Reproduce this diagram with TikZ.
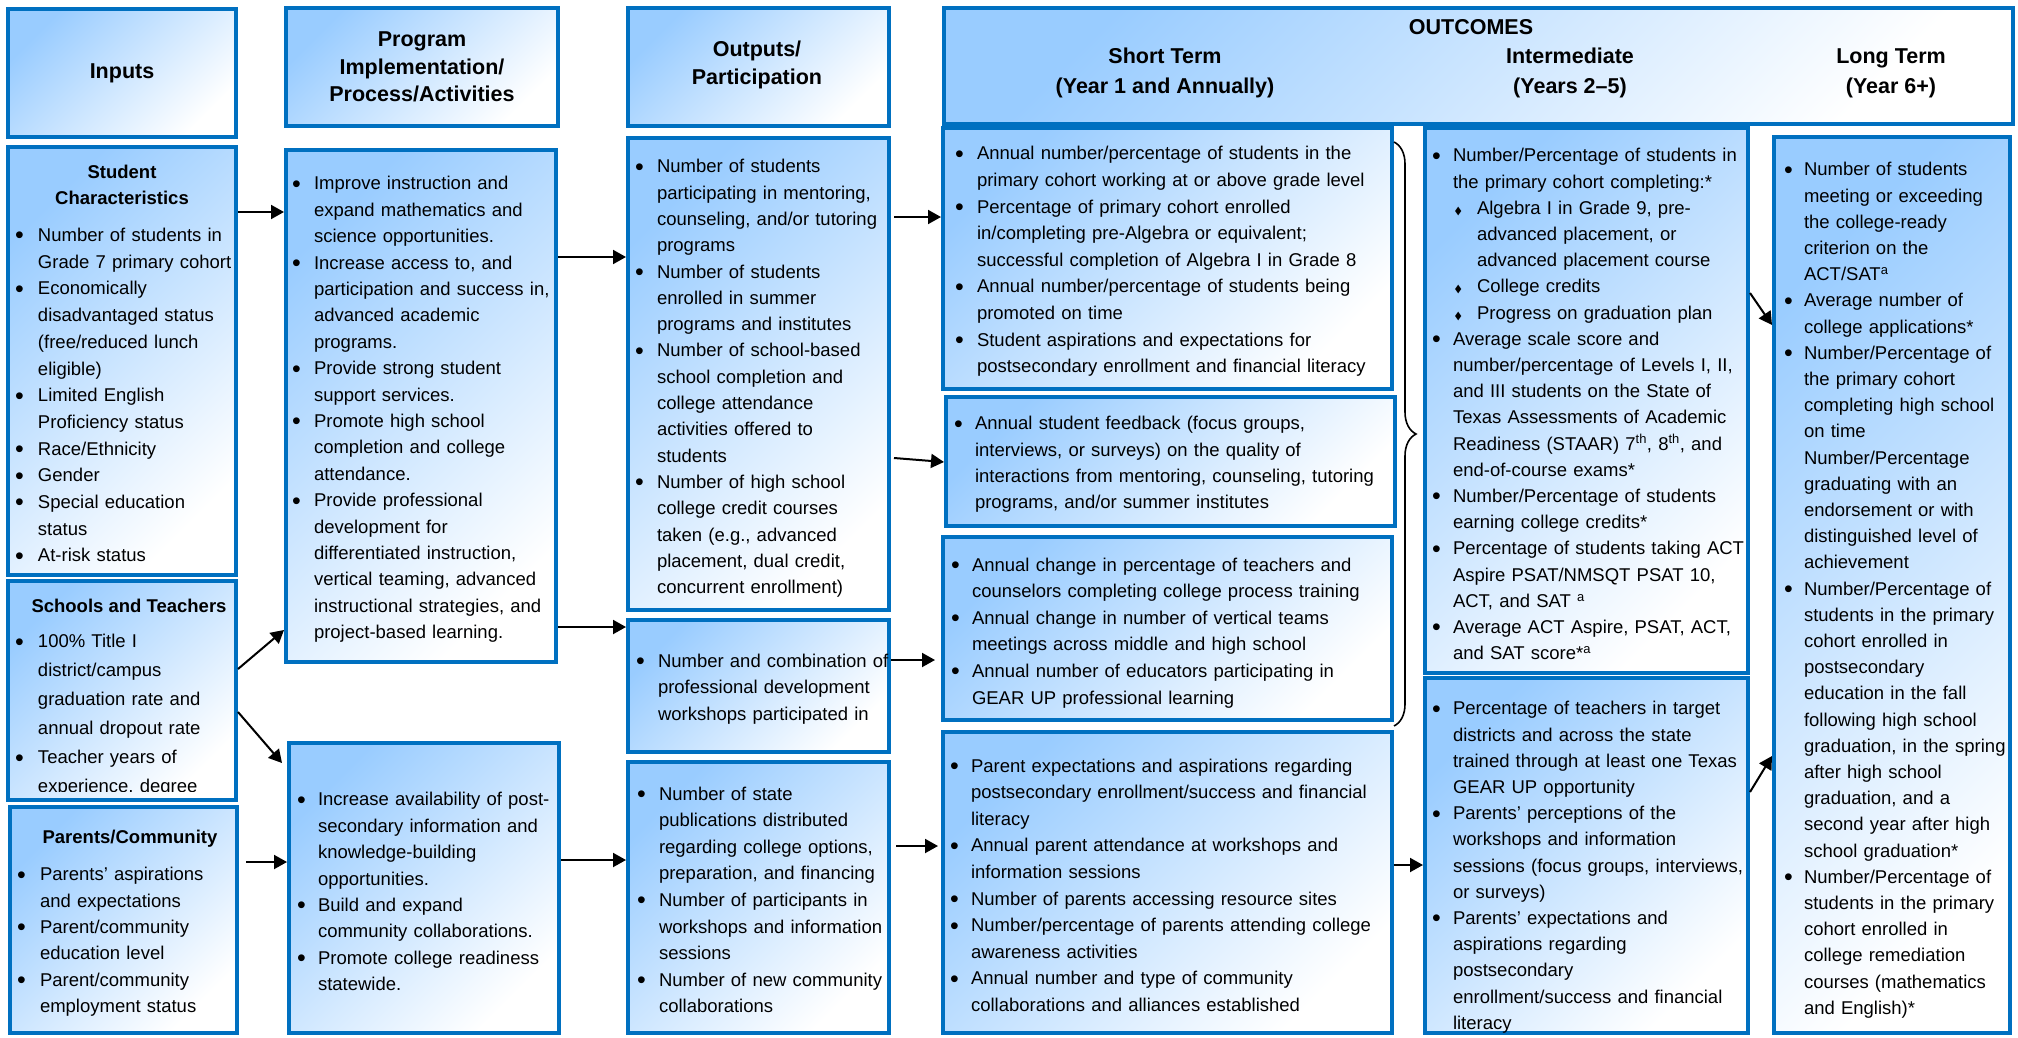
\documentclass[tikz,border=0pt]{standalone}
\usepackage{fontspec}
\setmainfont{Liberation Sans}
\newfontfamily\djv{DejaVu Sans}
\usepackage{graphicx}
\usetikzlibrary{arrows.meta,decorations.pathreplacing,calc}
\definecolor{bblue}{RGB}{0,112,192}
\definecolor{lblue}{RGB}{153,204,255}
\newlength{\hin}\newlength{\shin}\newlength{\sof}\newlength{\sw}
\newcommand{\bul}{\raisebox{-2.4pt}{\scalebox{1.35}{•}}}
\newcommand{\itm}{\par\hangindent=\hin\hangafter=1\noindent\strut\makebox[\hin][l]{\bul}}
\newcommand{\sitm}{\par\hangindent=\shin\hangafter=1\noindent\strut\hspace*{\sof}\makebox[\sw][l]{\scalebox{0.75}[1.05]{\djv\fontsize{11}{11}\selectfont ◆}}}
\newcommand{\bsz}[1]{\fontsize{18.5}{#1}\selectfont}
\newcommand{\bx}[5]{\node[box, minimum width={#4-#2}, minimum height={#5-#3}] (#1) at ({(#2+#4)/2},{(#3+#5)/2}) {};}
\tikzset{
  box/.style={draw=bblue, line width=4pt, top color=lblue, bottom color=white, shading angle=45, inner sep=0pt},
  txt/.style={anchor=north west, inner sep=0pt, outer sep=0pt, text width=#1,
    execute at begin node={\setlength{\parskip}{0pt}\setlength{\parindent}{0pt}\rightskip=0pt plus 1fil\relax\hbadness=10000\hfuzz=100pt\relax}},
  hdr/.style={font=\fontsize{21.5}{27.5}\selectfont\bfseries, align=center, inner sep=0pt},
  subh/.style={font=\fontsize{18.5}{26}\selectfont\bfseries, align=center, inner sep=0pt},
  arr/.style={line width=2pt, -{Triangle[length=13pt,width=14pt]}},
  brc/.style={line width=1.6pt, decorate, decoration={brace, amplitude=22pt}}
}
\begin{document}
\begin{tikzpicture}[x=1pt,y=-1pt]
\useasboundingbox (0,0) rectangle (2018,1038);
\fill[white] (0,0) rectangle (2018,1038);
% header boxes
\bx{hinp}{8}{9}{236}{137}
\bx{hprog}{286}{8}{558}{126}
\bx{hout}{628}{8}{889}{126}
\bx{hoc}{944}{8}{2013}{124}
% column 1
\bx{sc}{8}{147}{236}{575}
\bx{sch}{8}{581}{236}{800}
\bx{pa}{10}{807}{237}{1033}
% column 2
\bx{p1}{286}{150}{556}{662}
\bx{p2}{289}{743}{559}{1033}
% column 3
\bx{o1}{628}{138}{889}{610}
\bx{o2}{628}{620}{889}{752}
\bx{o3}{628}{762}{889}{1033}
% column 4
\bx{s1}{943}{128}{1392}{389}
\bx{s2}{946}{397}{1395}{526}
\bx{s3}{943}{537}{1392}{720}
\bx{s4}{943}{732}{1392}{1033}
% column 5
\bx{i1}{1425}{128}{1748}{673}
\bx{i2}{1425}{678}{1748}{1033}
% column 6
\bx{lt}{1774}{137}{2010}{1033}

% headers
\node[hdr] (t-in) at (122,73) {Inputs};
\node[hdr] (t-pr) at (422,67) {Program\\Implementation/\\Process/Activities};
\node[hdr] (t-ou) at (757,65) {Outputs/\\Participation};
\node[hdr] (t-oc) at (1471,27) {OUTCOMES};
\node[hdr, font=\fontsize{21.5}{30}\selectfont\bfseries] (t-st) at (1165,73) {Short Term\\(Year 1 and Annually)};
\node[hdr, font=\fontsize{21.5}{30}\selectfont\bfseries] (t-im) at (1570,73) {Intermediate\\(Years 2–5)};
\node[hdr, font=\fontsize{21.5}{30}\selectfont\bfseries] (t-lg) at (1891,73) {Long Term\\(Year 6+)};

% column 1 texts
\node[subh] (t-sc) at (122,185) {Student\\Characteristics};
\node[txt=245pt, font=\bsz{26.7}] (x-sc) at (15,214.8) {\setlength{\hin}{23pt}%
\itm Number of students in\newline Grade 7 primary cohort
\itm Economically\newline disadvantaged status\newline (free/reduced lunch\newline eligible)
\itm Limited English\newline Proficiency status
\itm Race/Ethnicity
\itm Gender
\itm Special education\newline status
\itm At-risk status\par};

\node[subh] (t-sch) at (129,606) {Schools and Teachers};
\begin{scope}
\clip (10,583) rectangle (234,791);
\node[txt=245pt, font=\bsz{29}] (x-sch) at (15,618.7) {\setlength{\hin}{23pt}%
\itm 100\% Title I\newline district/campus\newline graduation rate and\newline annual dropout rate
\itm Teacher years of\newline experience, degree\par};
\end{scope}

\node[subh] (t-pa) at (130,839) {Parents/Community};
\node[txt=245pt, font=\bsz{26.3}] (x-pa) at (17,854.6) {\setlength{\hin}{23pt}%
\itm Parents’ aspirations\newline and expectations
\itm Parent/community\newline education level
\itm Parent/community\newline employment status\par};

% column 2 texts
\node[txt=285pt, font=\bsz{26.4}] (x-p1) at (292,163.5) {\setlength{\hin}{22pt}%
\itm Improve instruction and\newline expand mathematics and\newline science opportunities.
\itm Increase access to, and\newline participation and success in,\newline advanced academic\newline programs.
\itm Provide strong student\newline support services.
\itm Promote high school\newline completion and college\newline attendance.
\itm Provide professional\newline development for\newline differentiated instruction,\newline vertical teaming, advanced\newline instructional strategies, and\newline project-based learning.\par};

\node[txt=285pt, font=\bsz{26.4}] (x-p2) at (297,779.5) {\setlength{\hin}{21pt}%
\itm Increase availability of post-\newline secondary information and\newline knowledge-building\newline opportunities.
\itm Build and expand\newline community collaborations.
\itm Promote college readiness\newline statewide.\par};

% column 3 texts
\node[txt=270pt, font=\bsz{26.3}] (x-o1) at (635,146.6) {\setlength{\hin}{22pt}%
\itm Number of students\newline participating in mentoring,\newline counseling, and/or tutoring\newline programs
\itm Number of students\newline enrolled in summer\newline programs and institutes
\itm Number of school-based\newline school completion and\newline college attendance\newline activities offered to\newline students
\itm Number of high school\newline college credit courses\newline taken (e.g., advanced\newline placement, dual credit,\newline concurrent enrollment)\par};

\node[txt=270pt, font=\bsz{26.5}] (x-o2) at (636,640.5) {\setlength{\hin}{22pt}%
\itm Number and combination of\newline professional development\newline workshops participated in\par};

\node[txt=270pt, font=\bsz{26.6}] (x-o3) at (637,773.4) {\setlength{\hin}{22pt}%
\itm Number of state\newline publications distributed\newline regarding college options,\newline preparation, and financing
\itm Number of participants in\newline workshops and information\newline sessions
\itm Number of new community\newline collaborations\par};

% column 4 texts
\node[txt=460pt, font=\bsz{26.6}] (x-s1) at (955,133.4) {\setlength{\hin}{22pt}%
\itm Annual number/percentage of students in the\newline primary cohort working at or above grade level
\itm Percentage of primary cohort enrolled\newline in/completing pre-Algebra or equivalent;\newline successful completion of Algebra I in Grade 8
\itm Annual number/percentage of students being\newline promoted on time
\itm Student aspirations and expectations for\newline postsecondary enrollment and financial literacy\par};

\node[txt=460pt, font=\bsz{26.2}] (x-s2) at (954,403.7) {\setlength{\hin}{21pt}%
\itm Annual student feedback (focus groups,\newline interviews, or surveys) on the quality of\newline interactions from mentoring, counseling, tutoring\newline programs, and/or summer institutes\par};

\node[txt=460pt, font=\bsz{26.6}] (x-s3) at (951,544.4) {\setlength{\hin}{21pt}%
\itm Annual change in percentage of teachers and\newline counselors completing college process training
\itm Annual change in number of vertical teams\newline meetings across middle and high school
\itm Annual number of educators participating in\newline GEAR UP professional learning\par};

\node[txt=460pt, font=\bsz{26.6}] (x-s4) at (950,745.4) {\setlength{\hin}{21pt}%
\itm Parent expectations and aspirations regarding\newline postsecondary enrollment/success and financial\newline literacy
\itm Annual parent attendance at workshops and\newline information sessions
\itm Number of parents accessing resource sites
\itm Number/percentage of parents attending college\newline awareness activities
\itm Annual number and type of community\newline collaborations and alliances established\par};

% column 5 texts
\node[txt=335pt, font=\bsz{26.2}] (x-i1) at (1432,135.7) {\setlength{\hin}{21pt}\setlength{\shin}{45pt}\setlength{\sof}{23pt}\setlength{\sw}{22pt}%
\itm Number/Percentage of students in\newline the primary cohort completing:*
\sitm Algebra I in Grade 9, pre-\newline advanced placement, or\newline advanced placement course
\sitm College credits
\sitm Progress on graduation plan
\itm Average scale score and\newline number/percentage of Levels I, II,\newline and III students on the State of\newline Texas Assessments of Academic\newline Readiness (STAAR) 7\textsuperscript{th}, 8\textsuperscript{th}, and\newline end-of-course exams*
\itm Number/Percentage of students\newline earning college credits*
\itm Percentage of students taking ACT\newline Aspire PSAT/NMSQT PSAT 10,\newline ACT, and SAT \textsuperscript{a}
\itm Average ACT Aspire, PSAT, ACT,\newline and SAT score*\textsuperscript{a}\par};

\node[txt=335pt, font=\bsz{26.2}] (x-i2) at (1432,688.7) {\setlength{\hin}{21pt}%
\itm Percentage of teachers in target\newline districts and across the state\newline trained through at least one Texas\newline GEAR UP opportunity
\itm Parents’ perceptions of the\newline workshops and information\newline sessions (focus groups, interviews,\newline or surveys)
\itm Parents’ expectations and\newline aspirations regarding\newline postsecondary\newline enrollment/success and financial\newline literacy\par};

% column 6 text
\node[txt=250pt, font=\bsz{26.2}] (x-lt) at (1784,149.7) {\setlength{\hin}{20pt}%
\itm Number of students\newline meeting or exceeding\newline the college-ready\newline criterion on the\newline ACT/SAT\textsuperscript{a}
\itm Average number of\newline college applications*
\itm Number/Percentage of\newline the primary cohort\newline completing high school\newline on time\newline Number/Percentage\newline graduating with an\newline endorsement or with\newline distinguished level of\newline achievement
\itm Number/Percentage of\newline students in the primary\newline cohort enrolled in\newline postsecondary\newline education in the fall\newline following high school\newline graduation, in the spring\newline after high school\newline graduation, and a\newline second year after high\newline school graduation*
\itm Number/Percentage of\newline students in the primary\newline cohort enrolled in\newline college remediation\newline courses (mathematics\newline and English)*\par};

% brace
\coordinate (bt) at (s1.east |- 0,142);
\coordinate (bb) at (s1.east |- 0,726);
\draw[brc] (bt) -- (bb);

% arrows
\draw[arr] (sc.east |- 0,212) -- (p1.west |- 0,212);
\draw[arr] (p1.east |- 0,257) -- (o1.west |- 0,257);
\draw[arr] (p1.east |- 0,627) -- (o2.west |- 0,627);
\draw[arr] (sch.east |- 0,669) -- (p1.west |- 0,630);
\draw[arr] (sch.east |- 0,712) -- ($(p2.west |- 0,763)+(-5,0)$);
\draw[arr] ($(pa.east |- 0,862)+(7,0)$) -- (p2.west |- 0,862);
\draw[arr] (p2.east |- 0,860) -- (o3.west |- 0,860);
\draw[arr] ($(o1.east |- 0,217)+(3,0)$) -- (s1.west |- 0,217);
\draw[arr] ($(o1.east |- 0,458)+(3,0)$) -- (s2.west |- 0,462);
\draw[arr] (o2.east |- 0,660) -- ($(s3.west |- 0,660)+(-6,0)$);
\draw[arr] ($(o3.east |- 0,846)+(5,0)$) -- ($(s4.west |- 0,846)+(-3,0)$);
\draw[arr] (s4.east |- 0,865) -- (i2.west |- 0,865);
\draw[arr] (i1.east |- 0,293) -- (lt.west |- 0,325);
\draw[arr] (i2.east |- 0,792) -- (lt.west |- 0,756);
\end{tikzpicture}
\end{document}
